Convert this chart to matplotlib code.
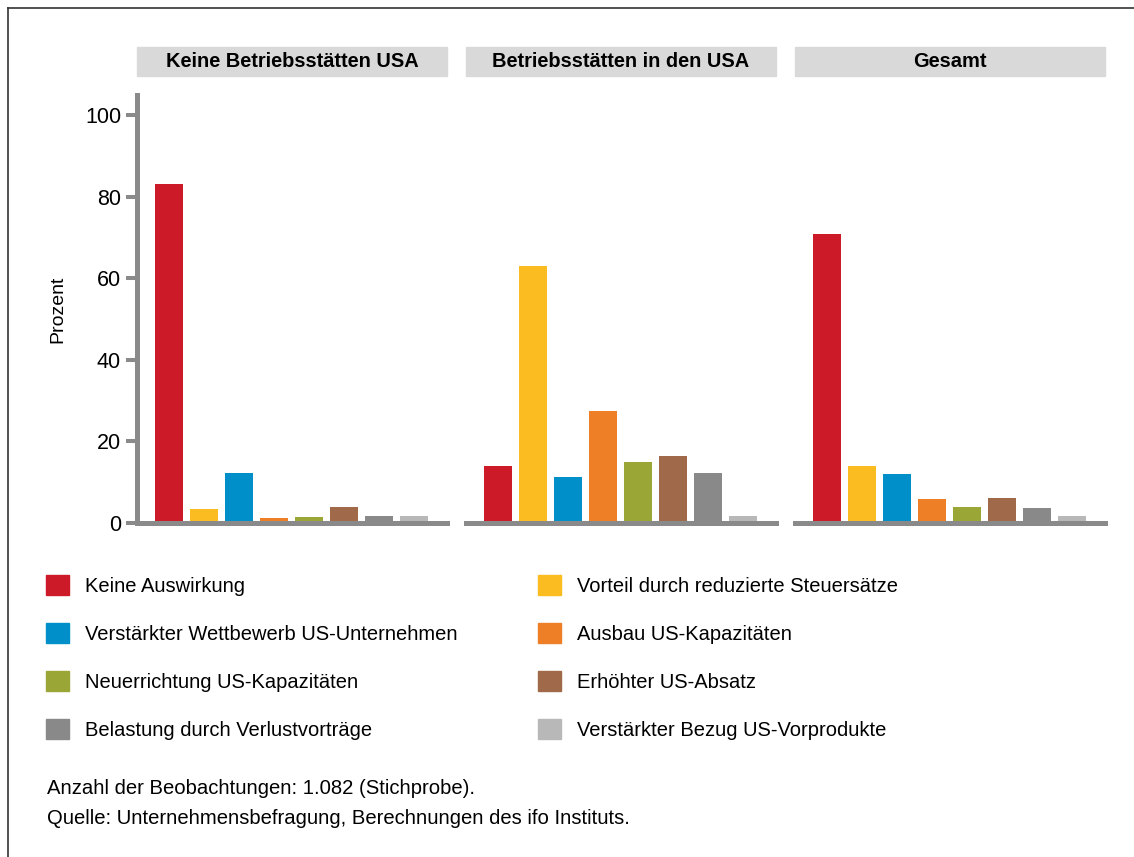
import matplotlib.pyplot as plt
from matplotlib.patches import Rectangle
from matplotlib.lines import Line2D
import numpy as np

plt.rcParams['font.family'] = ['Liberation Sans', 'DejaVu Sans']

categories = [
    "Keine Auswirkung",
    "Vorteil durch reduzierte Steuersätze",
    "Verstärkter Wettbewerb US-Unternehmen",
    "Ausbau US-Kapazitäten",
    "Neuerrichtung US-Kapazitäten",
    "Erhöhter US-Absatz",
    "Belastung durch Verlustvorträge",
    "Verstärkter Bezug US-Vorprodukte",
]
colors = ["#cc1a29", "#fbbc22", "#008fc9", "#ef7f27",
          "#9aa636", "#a0694a", "#898989", "#b8b8b8"]

panels = ["Keine Betriebsstätten USA", "Betriebsstätten in den USA", "Gesamt"]
keine_bs = [83.1, 3.4, 12.2, 1.2, 1.5, 3.9, 1.7, 1.7]
bs_usa = [13.9, 63.1, 11.2, 27.4, 14.9, 16.4, 12.2, 1.7]
gesamt = [70.9, 13.9, 12.0, 5.9, 3.9, 6.1, 3.7, 1.7]
values = [keine_bs, bs_usa, gesamt]

yticks = [0, 20, 40, 60, 80, 100]

W, H = 1134, 857
fig = plt.figure(figsize=(W / 100, H / 100), dpi=100)

axis_gray = "#8a8a8a"
lefts = [137, 466, 795]
ax_w = 310
ax_top, ax_bot = 95, 523

for i, (name, vals) in enumerate(zip(panels, values)):
    ax = fig.add_axes([lefts[i] / W, 1 - ax_bot / H, ax_w / W, (ax_bot - ax_top) / H])
    x = np.arange(len(vals))
    ax.bar(x, vals, width=0.8, color=colors)
    ax.set_xlim(-0.92, 7.94)
    ax.set_ylim(0, 105)
    for s in ['top', 'right']:
        ax.spines[s].set_visible(False)
    ax.spines['bottom'].set_color(axis_gray)
    ax.spines['bottom'].set_linewidth(3.6)
    ax.set_xticks([])
    if i == 0:
        ax.spines['left'].set_color(axis_gray)
        ax.spines['left'].set_linewidth(3.6)
        ax.set_yticks(yticks)
        ax.tick_params(axis='y', length=8, width=2.9, color=axis_gray,
                       labelsize=15.5, pad=3.5)
        ax.set_ylabel("Prozent", fontsize=14, labelpad=13)
    else:
        ax.spines['left'].set_visible(False)
        ax.set_yticks([])
    # strip header
    fig.patches.append(Rectangle((lefts[i] / W, 1 - 76 / H), ax_w / W, 29 / H,
                                 transform=fig.transFigure, color="#d9d9d9", zorder=0))
    fig.text((lefts[i] + ax_w / 2) / W, 1 - 61.5 / H, name, ha='center', va='center',
             fontsize=14.4, fontweight='bold')

# legend, two columns
handles = [Rectangle((0, 0), 1, 1, color=c) for c in colors]
for col, x0 in enumerate([46, 538]):
    idx = [col + 2 * r for r in range(4)]
    leg = fig.legend([handles[k] for k in idx], [categories[k] for k in idx],
                     loc='upper left', bbox_to_anchor=(x0 / W, 1 - 575 / H),
                     frameon=False, fontsize=14.5, handlelength=1.14, handleheight=1.14,
                     handletextpad=0.8, labelspacing=1.35, borderpad=0, borderaxespad=0)

fig.text(47 / W, 1 - 789 / H, "Anzahl der Beobachtungen: 1.082 (Stichprobe).",
         fontsize=14.6, va='center')
fig.text(47 / W, 1 - 819 / H, "Quelle: Unternehmensbefragung, Berechnungen des ifo Instituts.",
         fontsize=14.6, va='center')

# frame lines top and left
fig.lines.append(Line2D([8 / W, 1], [1 - 8 / H, 1 - 8 / H], transform=fig.transFigure,
                        color="#333333", lw=1.2))
fig.lines.append(Line2D([8 / W, 8 / W], [0, 1 - 8 / H], transform=fig.transFigure,
                        color="#333333", lw=1.2))

fig.savefig("out.png", dpi=100)
